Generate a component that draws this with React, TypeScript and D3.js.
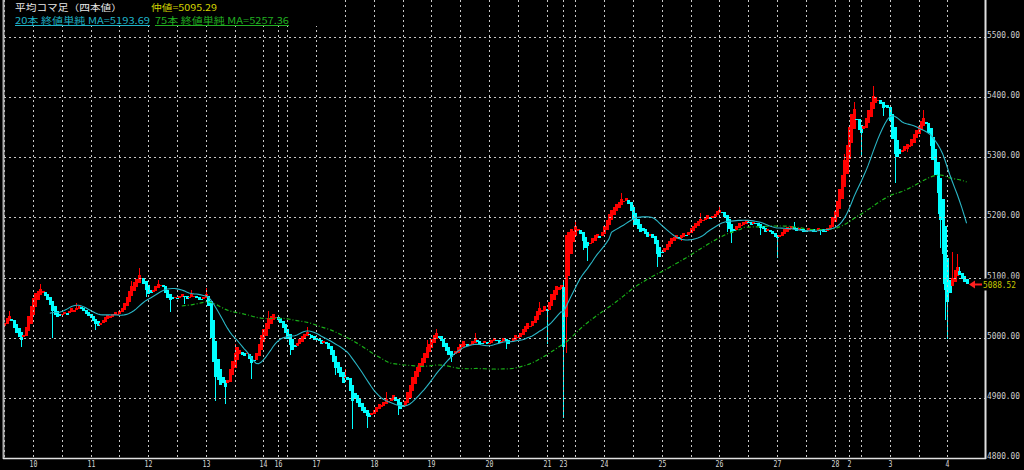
import React from "react";
import * as d3 from "d3";

// ---- time axis (hourly Heikin-Ashi bars, one array of closes per session) ----
const dayLabels = ["", "10", "11", "12", "13", "14", "16", "17", "18", "19", "20", "21", "23", "24", "25", "26", "27", "28", "2", "3", "4"];
const dayOpenHour = [12, 0, 0, 0, 0, 0, 8, 0, 0, 0, 0, 0, 7, 0, 0, 0, 0, 0, 7, 0, 0];

const day09 = [5025, 5032, 5036, 5028, 5016, 5008, 5002, 4996, 5004, 5018, 5036, 5052];
const day10 = [5066, 5074, 5078, 5081, 5077, 5070, 5062, 5054, 5044, 5038, 5034, 5036, 5040, 5043, 5040, 5045, 5049, 5046, 5050, 5053, 5049, 5044, 5040, 5036];
const day11 = [5032, 5028, 5022, 5020, 5024, 5030, 5034, 5038, 5036, 5040, 5042, 5040, 5044, 5050, 5058, 5068, 5078, 5086, 5092, 5098, 5104, 5100, 5090, 5080];
const day12 = [5072, 5074, 5080, 5086, 5090, 5088, 5084, 5074, 5066, 5062, 5064, 5068, 5066, 5070, 5072, 5068, 5064, 5068, 5072, 5070, 5066, 5062, 5064, 5068];
const day13 = [5072, 5052, 5000, 4960, 4935, 4930, 4922, 4925, 4918, 4930, 4948, 4962, 4975, 4985, 4980, 4972, 4970, 4975, 4965, 4958, 4962, 4975, 4990, 5005];
const day14 = [5015, 5024, 5032, 5036, 5040, 5035];
const day16 = [5030, 5024, 5016, 5008, 4998, 4988, 4980, 4984, 4992, 4998, 5003, 5007, 5010, 5004, 5000, 4996];
const day17 = [4998, 4994, 4990, 4994, 4990, 4982, 4972, 4960, 4950, 4942, 4935, 4925, 4935, 4930, 4912, 4895, 4900, 4892, 4885, 4878, 4874, 4870, 4868, 4875];
const day18 = [4880, 4885, 4890, 4888, 4893, 4898, 4895, 4900, 4905, 4895, 4888, 4882, 4885, 4895, 4910, 4922, 4935, 4945, 4952, 4958, 4966, 4975, 4985, 4990];
const day19 = [4998, 5004, 5008, 5002, 4994, 4985, 4978, 4972, 4968, 4972, 4978, 4985, 4990, 4994, 4990, 4986, 4990, 4995, 5000, 4994, 4988, 4990, 4994, 4990];
const day20 = [4992, 4996, 5000, 4996, 4992, 4995, 5000, 4994, 4990, 4995, 5000, 5004, 5002, 5008, 5014, 5020, 5024, 5020, 5028, 5036, 5044, 5050, 5046, 5052];
const day21 = [5045, 5060, 5072, 5080, 5086, 5084, 5088];
const day23 = [4985, 5170, 5175, 5180, 5178, 5185, 5180, 5172, 5160, 5150, 5152, 5158, 5165, 5170, 5172, 5168, 5175];
const day24 = [5185, 5195, 5205, 5212, 5218, 5222, 5226, 5230, 5228, 5232, 5222, 5210, 5198, 5188, 5180, 5175, 5178, 5172, 5168, 5172, 5165, 5155, 5140, 5135];
const day25 = [5142, 5150, 5156, 5160, 5165, 5168, 5170, 5166, 5170, 5174, 5170, 5176, 5182, 5186, 5190, 5194, 5198, 5196, 5200, 5204, 5198, 5202, 5206, 5210];
const day26 = [5212, 5208, 5200, 5190, 5180, 5174, 5178, 5185, 5190, 5188, 5192, 5196, 5192, 5188, 5192, 5190, 5186, 5182, 5180, 5176, 5180, 5176, 5172, 5168];
const day27 = [5165, 5170, 5176, 5180, 5184, 5182, 5186, 5182, 5178, 5182, 5180, 5176, 5178, 5182, 5180, 5176, 5178, 5182, 5180, 5176, 5178, 5182, 5188, 5200];
const day28 = [5210, 5228, 5248, 5270, 5295, 5320];
const day02 = [5350, 5372, 5380, 5362, 5345, 5340, 5352, 5365, 5378, 5392, 5402, 5400, 5396, 5388, 5382, 5386, 5382];
const day03 = [5360, 5330, 5305, 5300, 5305, 5312, 5318, 5322, 5320, 5330, 5338, 5345, 5352, 5360, 5366, 5355, 5340, 5318, 5295, 5270, 5240, 5195, 5140, 5080];
const day04 = [5060, 5075, 5100, 5112, 5118, 5105, 5098, 5092, 5088.52];

const dayCloses = [day09, day10, day11, day12, day13, day14, day16, day17, day18, day19, day20, day21, day23, day24, day25, day26, day27, day28, day02, day03, day04];

// visible wick extremes: [bar index, price]
const upperWicks: [number, number][] = [
  [2, 5045], [15, 5090], [30, 5058], [53, 5094], [56, 5116], [64, 5096], [78, 5080], [84, 5082], [96, 4990],
  [110, 5044], [126, 5018], [142, 4948], [159, 4910], [176, 4996], [180, 5014], [196, 5008], [223, 5060],
  [233, 5092], [238, 5196], [257, 5240], [290, 5208], [298, 5220], [329, 5192], [350, 5306], [354, 5392],
  [362, 5418], [383, 5378], [395, 5142], [397, 5140], [398, 5118],
];
const lowerWicks: [number, number][] = [
  [7, 4985], [20, 5000], [38, 5012], [59, 5068], [69, 5042], [75, 5056], [88, 4895], [92, 4890], [103, 4932],
  [119, 4972], [138, 4938], [145, 4848], [151, 4850], [164, 4872], [186, 4960], [209, 4982], [226, 4990],
  [233, 4866], [234, 4975], [241, 5146], [243, 5128], [262, 5184], [272, 5118], [282, 5160], [301, 5176],
  [303, 5158], [315, 5170], [322, 5132], [340, 5170], [357, 5302], [366, 5368], [371, 5258], [376, 5308],
  [386, 5296], [389, 5205], [390, 5150], [391, 5090], [392, 5030], [393, 4998],
];

const priceTicks = [4800, 4900, 5000, 5100, 5200, 5300, 5400, 5500];
const firstOpen = 5020;
const lastPrice = 5088.52;
const midPrice = 5095.29;
const ma20Value = 5193.69;
const ma75Value = 5257.36;

const W = 1024;
const H = 470;
const MONO = "'DejaVu Sans Mono', 'Liberation Mono', monospace";
const JP = "'Noto Sans CJK JP', 'Noto Sans', sans-serif";

function movingAverage(values: number[], n: number) {
  const out: { i: number; v: number }[] = [];
  for (let i = n - 1; i < values.length; i++) {
    out.push({ i, v: d3.mean(values.slice(i - n + 1, i + 1)) as number });
  }
  return out;
}

export default function App() {
  const closes = dayCloses.flat();
  const N = closes.length;
  const x = d3.scaleLinear().domain([0, N - 1]).range([4.2, 4.2 + 2.4 * (N - 1)]);
  const y = d3.scaleLinear().domain([4800, 5500]).range([458, 37]);

  const hiMap = new Map(upperWicks);
  const loMap = new Map(lowerWicks);
  const opens: number[] = [];
  closes.forEach((c, i) => {
    opens.push(i === 0 ? firstOpen : (opens[i - 1] + closes[i - 1]) / 2);
  });
  const bars = closes.map((c, i) => {
    const o = opens[i];
    const hi = Math.max(o, c, hiMap.get(i) ?? -Infinity);
    const lo = Math.min(o, c, loMap.get(i) ?? Infinity);
    return { i, o, c, hi, lo, up: c >= o };
  });

  // grid positions: day start and noon
  const dayLines: { i: number; label: string }[] = [];
  const noonLines: number[] = [];
  let start = 0;
  dayCloses.forEach((arr, d) => {
    if (dayLabels[d] !== "") dayLines.push({ i: start, label: dayLabels[d] });
    const noonOff = 12 - dayOpenHour[d];
    if (noonOff >= 0 && noonOff < arr.length) noonLines.push(start + noonOff);
    start += arr.length;
  });

  const ma20 = movingAverage(closes, 20);
  const ma75 = movingAverage(closes, 75);
  const line = d3
    .line<{ i: number; v: number }>()
    .x((d) => x(d.i))
    .y((d) => y(d.v));

  const red = "#ff0000";
  const cyan = "#00ffff";
  const gridColor = "#c8c8c8";
  const lastY = y(lastPrice);

  return (
    <div style={{ position: "fixed", left: 0, top: 0, width: W, height: H, background: "#000" }}>
      <svg width={W} height={H} style={{ display: "block", background: "#000" }}>
        {/* candles */}
        <g>
          {bars.map((b) => {
            const cx = Math.round(x(b.i)) + 0.5;
            const col = b.up ? red : cyan;
            const top = y(Math.max(b.o, b.c));
            const bot = y(Math.min(b.o, b.c));
            return (
              <g key={b.i}>
                <line x1={cx} x2={cx} y1={y(b.hi)} y2={y(b.lo)} stroke={col} strokeWidth={1} shapeRendering="crispEdges" />
                <rect x={cx - 1.5} y={top} width={3} height={Math.max(1.5, bot - top)} fill={col} shapeRendering="crispEdges" />
              </g>
            );
          })}
        </g>

        {/* grid */}
        <g stroke={gridColor} strokeWidth={1} strokeDasharray="2,3" shapeRendering="crispEdges">
          {priceTicks.slice(1).map((p) => (
            <line key={p} x1={4} x2={985} y1={Math.round(y(p)) + 0.5} y2={Math.round(y(p)) + 0.5} />
          ))}
          {dayLines.map((d) => (
            <line key={"d" + d.i} x1={Math.round(x(d.i)) + 0.5} x2={Math.round(x(d.i)) + 0.5} y1={0} y2={458} />
          ))}
          {noonLines.map((i) => (
            <line key={"n" + i} x1={Math.round(x(i)) + 0.5} x2={Math.round(x(i)) + 0.5} y1={0} y2={458} />
          ))}
        </g>

        {/* moving averages */}
        <path d={line(ma75) ?? ""} fill="none" stroke="#18b018" strokeWidth={1.2} strokeDasharray="4,2,1,2" />
        <path d={line(ma20) ?? ""} fill="none" stroke="#2ab6c6" strokeWidth={1.1} />

        {/* frame */}
        <line x1={3.5} x2={3.5} y1={0} y2={459} stroke="#b0b0b0" strokeWidth={2} />
        <line x1={3} x2={986} y1={458.5} y2={458.5} stroke="#e0e0e0" strokeWidth={1.5} />
        <line x1={985.5} x2={985.5} y1={0} y2={459} stroke="#e0e0e0" strokeWidth={2} />

        {/* price axis */}
        <g fontFamily={MONO} fontSize={8.5} fill="#d0d0d0">
          {priceTicks.map((p) => (
            <text key={p} x={987} y={Math.round(y(p)) + 0.5} textLength={33} lengthAdjust="spacingAndGlyphs">
              {p.toFixed(2)}
            </text>
          ))}
        </g>

        {/* time axis */}
        <g fontFamily={MONO} fontSize={9.5} fill="#d8d8d8" textAnchor="middle">
          {dayLines.map((d) => (
            <text key={d.i} x={Math.round(x(d.i)) + 0.5} y={467} textLength={d.label.length * 3.9} lengthAdjust="spacingAndGlyphs">
              {d.label}
            </text>
          ))}
        </g>

        {/* current price marker */}
        <g>
          <line x1={973} x2={982} y1={lastY} y2={lastY} stroke="#ff2020" strokeWidth={2} />
          <path d={`M969,${lastY} L975,${lastY - 4} L975,${lastY + 4} Z`} fill="#ff2020" />
          <rect x={983} y={lastY - 6} width={35} height={12} fill="#000" />
          <text x={983} y={lastY + 3.5} fontFamily={MONO} fontSize={8.5} fill="#c8c800" textLength={33} lengthAdjust="spacingAndGlyphs">
            {lastPrice.toFixed(2)}
          </text>
        </g>

        {/* legend */}
        <rect x={5} y={0} width={314} height={26} fill="#000" />
        <g fontFamily={JP} fontSize={9}>
          <text x={15} y={10.6} fill="#e8e8e8" textLength={107} lengthAdjust="spacingAndGlyphs">平均コマ足（四本値）</text>
          <text x={151} y={10.6} fill="#d4d400" textLength={66} lengthAdjust="spacingAndGlyphs">{`仲値=${midPrice.toFixed(2)}`}</text>
          <text x={15} y={23.8} fill="#1fb4c8" textLength={135} lengthAdjust="spacingAndGlyphs">{`20本 終値単純 MA=${ma20Value.toFixed(2)}`}</text>
          <text x={155} y={23.8} fill="#22b022" textLength={134} lengthAdjust="spacingAndGlyphs">{`75本 終値単純 MA=${ma75Value.toFixed(2)}`}</text>
        </g>
        <line x1={15} x2={150} y1={25.5} y2={25.5} stroke="#1fb4c8" strokeWidth={1} />
        <line x1={155} x2={289} y1={25.5} y2={25.5} stroke="#22b022" strokeWidth={1} />
      </svg>
    </div>
  );
}
